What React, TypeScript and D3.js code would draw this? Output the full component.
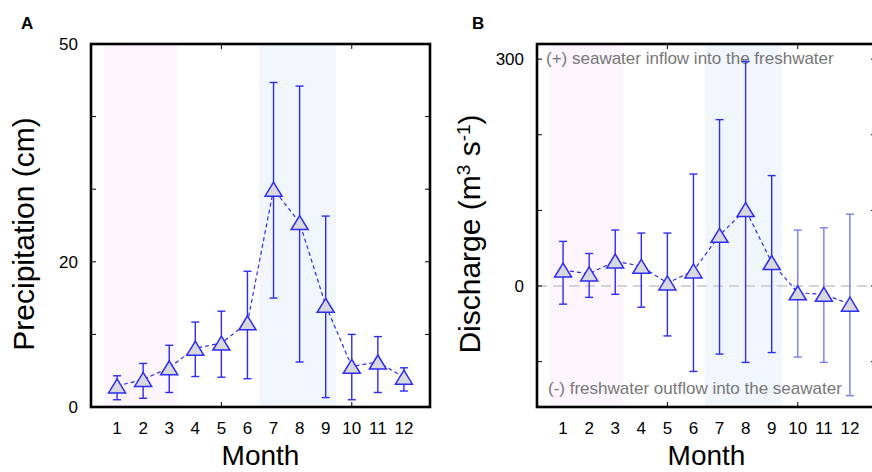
import React from "react";
import * as d3 from "d3";

const months = [1, 2, 3, 4, 5, 6, 7, 8, 9, 10, 11, 12];

// Panel A: precipitation (cm)
const precipMean = [2.9, 3.8, 5.4, 8.1, 8.8, 11.6, 30.0, 25.4, 14.0, 5.6, 6.2, 4.1];
const precipHigh = [4.3, 6.0, 8.5, 11.7, 13.2, 18.7, 44.7, 44.2, 26.3, 10.0, 9.7, 5.4];
const precipLow = [1.0, 1.2, 2.0, 4.2, 4.1, 3.9, 15.0, 6.2, 1.3, 1.0, 2.0, 2.2];
const precipTicks = [0, 10, 20, 30, 40, 50];
const precipTickLabels = [0, 20, 50];

// Panel B: discharge (m3 s-1)
const dischMean = [21, 16, 33, 26, 4, 20, 67, 101, 31, -9, -11, -24];
const dischHigh = [59, 43, 74, 70, 70, 148, 220, 297, 146, 74, 77, 95];
const dischLow = [-24, -15, -11, -28, -66, -113, -90, -101, -88, -94, -101, -145];
const dischTicks = [-100, 0, 100, 200, 300];
const dischTickLabels = [0, 300];

const xTicks = [5, 10];
const pinkSpan = [0.5, 3.3];
const blueSpan = [6.45, 9.4];

const FONT = "'Liberation Sans', Arial, Helvetica, sans-serif";
const BLUE = "#2c2cf2";
const FADED = "#7a7af4";

type PanelProps = {
  left: number;
  right: number;
  label: string;
  labelX: number;
  mean: number[];
  high: number[];
  low: number[];
  yDomain: [number, number];
  ticks: number[];
  tickLabels: number[];
  yTitle: React.ReactNode;
  fadedFrom?: number;
  zeroLine?: boolean;
  notes?: boolean;
};

function Panel(p: PanelProps) {
  const top = 44;
  const bottom = 407;
  const x = d3.scaleLinear().domain([0, 13]).range([p.left, p.right]);
  const y = d3.scaleLinear().domain(p.yDomain).range([bottom, top]);
  const line = d3
    .line<number>()
    .x((_, i) => x(months[i]))
    .y((d) => y(d));
  const triW = 8.5;
  const triH = 7;
  const tri = (cx: number, cy: number) =>
    `M${cx},${cy - triH} L${cx + triW},${cy + triH} L${cx - triW},${cy + triH} Z`;
  const frameRight = p.right;
  return (
    <g>
      <rect x={x(pinkSpan[0])} y={top} width={x(pinkSpan[1]) - x(pinkSpan[0])} height={bottom - top} fill="#fdf5fd" />
      <rect x={x(blueSpan[0])} y={top} width={x(blueSpan[1]) - x(blueSpan[0])} height={bottom - top} fill="#f1f6fc" />
      {p.zeroLine && (
        <line x1={p.left} x2={frameRight} y1={y(0)} y2={y(0)} stroke="#d4d4d4" strokeWidth={2} strokeDasharray="10,6" />
      )}
      {p.notes && (
        <g fontFamily={FONT} fontSize={17} fill="#777">
          <text x={x(0) + 9} y={y(p.yDomain[1]) + 20}>(+) seawater inflow into the freshwater</text>
          <text x={x(0) + 11} y={bottom - 13}>(-) freshwater outflow into the seawater</text>
        </g>
      )}
      {/* error bars */}
      {months.map((m, i) => {
        const c = p.fadedFrom && m >= p.fadedFrom ? FADED : BLUE;
        const cx = x(m);
        return (
          <g key={m} stroke={c} strokeWidth={1.4}>
            <line x1={cx} x2={cx} y1={y(p.high[i])} y2={y(p.low[i])} />
            <line x1={cx - 4} x2={cx + 4} y1={y(p.high[i])} y2={y(p.high[i])} />
            <line x1={cx - 4} x2={cx + 4} y1={y(p.low[i])} y2={y(p.low[i])} />
          </g>
        );
      })}
      <path d={line(p.mean) || ""} fill="none" stroke={BLUE} strokeWidth={1.2} strokeDasharray="4,3" />
      {months.map((m, i) => (
        <path key={m} d={tri(x(m), y(p.mean[i]))} fill="#d7d7dc" stroke={BLUE} strokeWidth={1.5} strokeLinejoin="miter" />
      ))}
      {/* ticks */}
      <g stroke="#000" strokeWidth={1}>
        {p.ticks.map((t) => (
          <g key={t}>
            <line x1={p.left} x2={p.left + 5} y1={y(t)} y2={y(t)} />
            <line x1={frameRight - 5} x2={frameRight} y1={y(t)} y2={y(t)} />
          </g>
        ))}
        {xTicks.map((t) => (
          <g key={t}>
            <line x1={x(t)} x2={x(t)} y1={top} y2={top + 5} />
            <line x1={x(t)} x2={x(t)} y1={bottom} y2={bottom - 5} />
          </g>
        ))}
      </g>
      <rect x={p.left} y={top} width={frameRight - p.left} height={bottom - top} fill="none" stroke="#000" strokeWidth={2.6} />
      {/* tick labels */}
      <g fontFamily={FONT} fontSize={17} fill="#000">
        {p.tickLabels.map((t) => (
          <text key={t} x={p.left - 13} y={y(t)} dy="0.36em" textAnchor="end">
            {t}
          </text>
        ))}
        {months.map((m) => (
          <text key={m} x={x(m)} y={434} textAnchor="middle">
            {m}
          </text>
        ))}
      </g>
      <text x={(p.left + frameRight) / 2} y={465} textAnchor="middle" fontFamily={FONT} fontSize={28}>
        Month
      </text>
      <text
        transform={`translate(${p.left - 57},234) rotate(-90)`}
        textAnchor="middle"
        fontFamily={FONT}
        fontSize={30}
      >
        {p.yTitle}
      </text>
      <text x={p.labelX} y={29} fontFamily={FONT} fontSize={17} fontWeight="bold">
        {p.label}
      </text>
    </g>
  );
}

export default function App() {
  return (
    <div style={{ position: "fixed", left: 0, top: 0, width: 872, height: 472, background: "#fff" }}>
      <svg width={872} height={472} style={{ display: "block" }}>
        <rect width={872} height={472} fill="#fff" />
        <Panel
          left={91}
          right={430}
          label="A"
          labelX={21}
          mean={precipMean}
          high={precipHigh}
          low={precipLow}
          yDomain={[0, 50]}
          ticks={precipTicks}
          tickLabels={precipTickLabels}
          yTitle="Precipitation (cm)"
        />
        <Panel
          left={537}
          right={876}
          label="B"
          labelX={472}
          mean={dischMean}
          high={dischHigh}
          low={dischLow}
          yDomain={[-160, 320]}
          ticks={dischTicks}
          tickLabels={dischTickLabels}
          fadedFrom={10}
          zeroLine
          notes
          yTitle={
            <>
              Discharge (m<tspan baselineShift="super" fontSize={19}>3</tspan> s<tspan baselineShift="super" fontSize={19}>-1</tspan>)
            </>
          }
        />
      </svg>
    </div>
  );
}
